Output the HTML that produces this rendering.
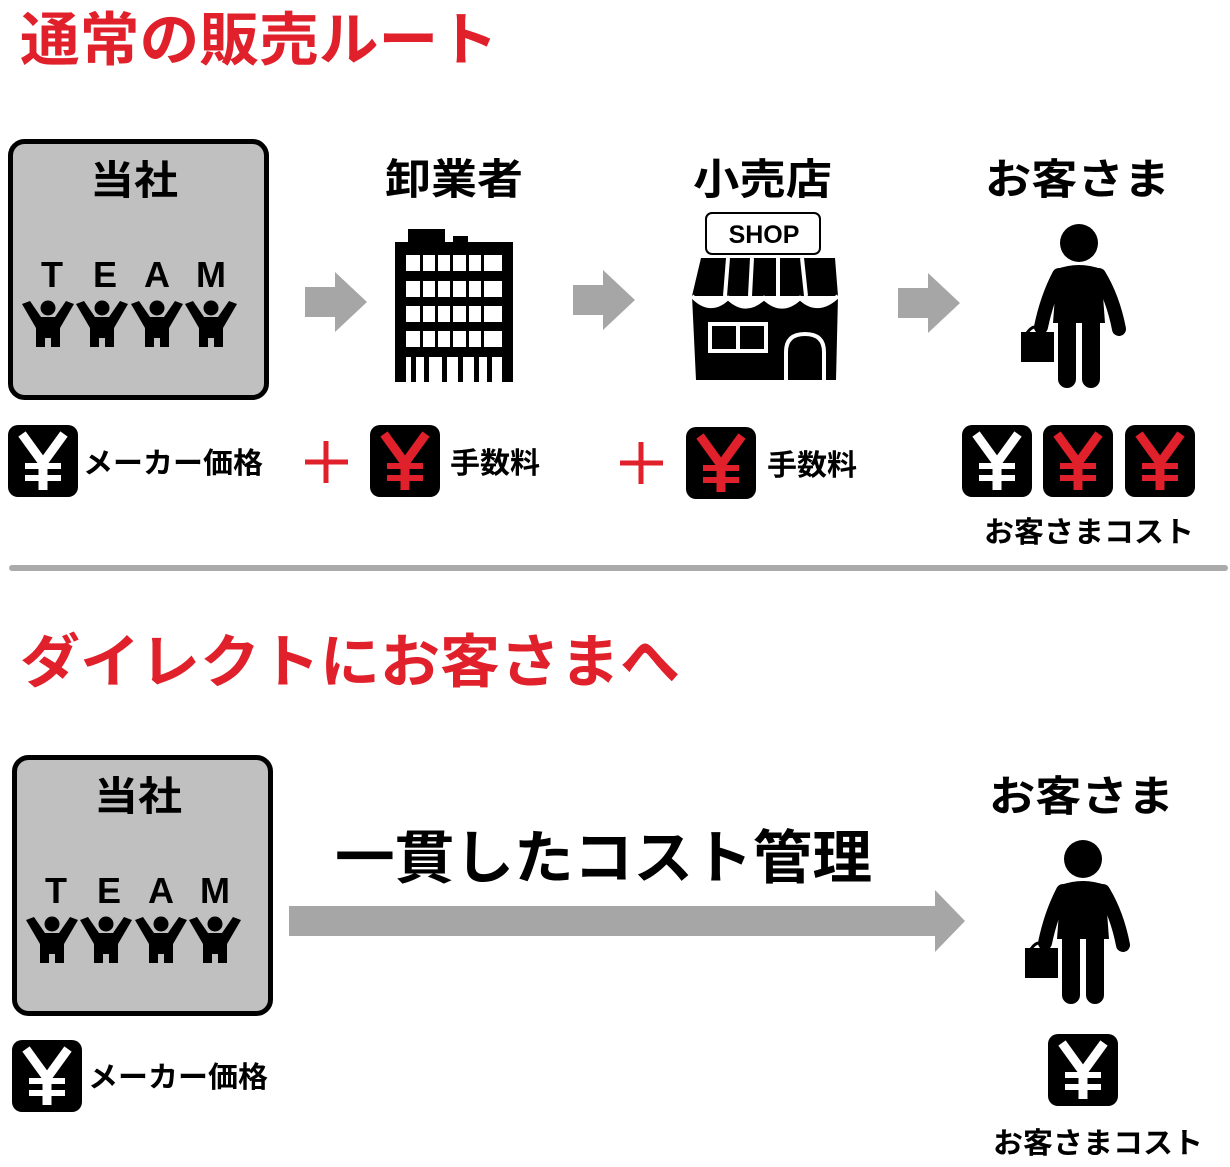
<!DOCTYPE html>
<html><head><meta charset="utf-8"><style>
html,body{margin:0;padding:0;background:#fff;}
svg{display:block}
text{font-family:"Liberation Sans","Noto Sans CJK JP",sans-serif;font-weight:bold}
</style></head><body>
<svg width="1230" height="1167" viewBox="0 0 1230 1167" xmlns="http://www.w3.org/2000/svg">
<defs>
  <g id="tp">
    <circle cx="0" cy="6" r="7.5" fill="#000"/>
    <polygon points="-26,2 -18,-1 -7,15 7,15 18,-1 26,2 12,26 12,45 3,45 3,36 -3,36 -3,45 -12,45 -12,26" fill="#000"/>
  </g>
  <g id="box">
    <rect x="10.5" y="141.5" width="256" height="256" rx="14" fill="#c0c0c0" stroke="#000" stroke-width="5"/>
    <text x="90" y="194" font-size="40" textLength="88" lengthAdjust="spacingAndGlyphs">当社</text>
    <text x="52" y="287" font-size="36" text-anchor="middle">T</text>
    <text x="105" y="287" font-size="36" text-anchor="middle">E</text>
    <text x="157" y="287" font-size="36" text-anchor="middle">A</text>
    <text x="211" y="287" font-size="36" text-anchor="middle">M</text>
    <use href="#tp" x="48" y="302"/>
    <use href="#tp" x="102" y="302"/>
    <use href="#tp" x="157" y="302"/>
    <use href="#tp" x="211" y="302"/>
  </g>
  <g id="yw"><rect x="0" y="0" width="70" height="72" rx="10" fill="#000"/>
    <g stroke="#fff" fill="none"><polyline points="14,9 35,38 56,9" stroke-width="9"/><line x1="35" y1="36" x2="35" y2="65" stroke-width="9"/><line x1="17" y1="41" x2="53" y2="41" stroke-width="6"/><line x1="17" y1="53" x2="53" y2="53" stroke-width="6"/></g></g>
  <g id="yr"><rect x="0" y="0" width="70" height="72" rx="10" fill="#000"/>
    <g stroke="#e0202a" fill="none"><polyline points="14,9 35,38 56,9" stroke-width="9"/><line x1="35" y1="36" x2="35" y2="65" stroke-width="9"/><line x1="17" y1="41" x2="53" y2="41" stroke-width="6"/><line x1="17" y1="53" x2="53" y2="53" stroke-width="6"/></g></g>
  <g id="person">
    <circle cx="0" cy="0" r="19" fill="#000"/>
    <path d="M-22,26 Q0,18 22,26 L26,80 L-26,80 Z" fill="#000"/>
    <path d="M-20,32 Q-32,55 -38,84" stroke="#000" stroke-width="14" stroke-linecap="round" fill="none"/>
    <path d="M20,32 Q34,55 40,86" stroke="#000" stroke-width="14" stroke-linecap="round" fill="none"/>
    <rect x="-21" y="60" width="18" height="85" rx="9" fill="#000"/>
    <rect x="3" y="60" width="18" height="85" rx="9" fill="#000"/>
    <path d="M-52,90 Q-44,78 -36,90" stroke="#000" stroke-width="3" fill="none"/>
    <rect x="-58" y="89" width="33" height="30" fill="#000"/>
  </g>
</defs>

<!-- Top section -->
<text x="20" y="60" font-size="58" fill="#e0202a" textLength="478" lengthAdjust="spacingAndGlyphs">通常の販売ルート</text>
<use href="#box"/>

<polygon points="305,287 335,287 335,272 367,302 335,332 335,317 305,317" fill="#a6a6a6"/>
<polygon points="573,285 603,285 603,270 635,300 603,330 603,315 573,315" fill="#a6a6a6"/>
<polygon points="898,288 928,288 928,273 960,303 928,333 928,318 898,318" fill="#a6a6a6"/>

<text x="385" y="194" font-size="42" textLength="138" lengthAdjust="spacingAndGlyphs">卸業者</text>
<text x="693" y="194" font-size="42" textLength="139" lengthAdjust="spacingAndGlyphs">小売店</text>
<text x="985" y="194" font-size="42" textLength="185" lengthAdjust="spacingAndGlyphs">お客さま</text>

<!-- building -->
<rect x="408" y="229" width="37" height="14" fill="#000"/>
<rect x="453" y="236" width="15" height="7" fill="#000"/>
<rect x="395" y="242" width="118" height="140" fill="#000"/>
<g fill="#fff">
  <rect x="406" y="255" width="96" height="16"/>
  <rect x="406" y="281" width="96" height="16"/>
  <rect x="406" y="306" width="96" height="16"/>
  <rect x="406" y="331" width="96" height="16"/>
  <rect x="406" y="357" width="96" height="25"/>
</g>
<g fill="#000">
  <rect x="420" y="255" width="3" height="92"/><rect x="435" y="255" width="3" height="92"/>
  <rect x="450" y="255" width="3" height="92"/><rect x="466" y="255" width="3" height="92"/>
  <rect x="481" y="255" width="3" height="92"/>
  <rect x="411" y="357" width="5" height="25"/><rect x="424" y="357" width="5" height="25"/>
  <rect x="442" y="357" width="5" height="25"/><rect x="458" y="357" width="5" height="25"/>
  <rect x="474" y="357" width="5" height="25"/><rect x="487" y="357" width="5" height="25"/>
</g>

<!-- shop -->
<rect x="706" y="213" width="114" height="41" rx="6" fill="#fff" stroke="#000" stroke-width="2"/>
<text x="764" y="243" font-size="25" text-anchor="middle">SHOP</text>
<polygon points="701,258 835,258 838,296 692,296" fill="#000"/>
<g stroke="#fff" stroke-width="4"><line x1="728" y1="258" x2="725" y2="296"/><line x1="752" y1="258" x2="750" y2="296"/><line x1="778" y1="258" x2="778" y2="296"/><line x1="802" y1="258" x2="806" y2="296"/></g>
<path d="M692,296 Q710,315 728,298 Q746,315 764,298 Q782,315 800,298 Q818,315 838,296 L836,380 L696,380 Z" fill="#000"/>
<path d="M692,296 Q710,315 728,298 Q746,315 764,298 Q782,315 800,298 Q818,315 838,296" stroke="#fff" stroke-width="4" fill="none"/>
<rect x="710" y="324" width="56" height="27" fill="none" stroke="#fff" stroke-width="4"/>
<line x1="738" y1="324" x2="738" y2="351" stroke="#fff" stroke-width="4"/>
<path d="M786,380 L786,352 Q786,334 805,334 Q824,334 824,352 L824,380" fill="none" stroke="#fff" stroke-width="4"/>

<use href="#person" x="1079" y="243"/>

<use href="#yw" x="8" y="425"/>
<text x="83" y="473" font-size="29" textLength="180" lengthAdjust="spacingAndGlyphs">メーカー価格</text>
<g stroke="#e0202a" stroke-width="5"><line x1="305" y1="462" x2="348" y2="462"/><line x1="326" y1="441" x2="326" y2="483"/>
<line x1="620" y1="463" x2="663" y2="463"/><line x1="641" y1="442" x2="641" y2="484"/></g>
<use href="#yr" x="370" y="425"/>
<text x="450" y="473" font-size="29" textLength="90" lengthAdjust="spacingAndGlyphs">手数料</text>
<use href="#yr" x="686" y="427"/>
<text x="767" y="475" font-size="29" textLength="90" lengthAdjust="spacingAndGlyphs">手数料</text>
<use href="#yw" x="962" y="425"/>
<use href="#yr" x="1043" y="425"/>
<use href="#yr" x="1125" y="425"/>
<text x="984" y="542" font-size="29" textLength="210" lengthAdjust="spacingAndGlyphs">お客さまコスト</text>

<line x1="12" y1="568" x2="1225" y2="568" stroke="#aaa" stroke-width="6" stroke-linecap="round"/>

<!-- Bottom section -->
<text x="20" y="682" font-size="58" fill="#e0202a" textLength="660" lengthAdjust="spacingAndGlyphs">ダイレクトにお客さまへ</text>
<use href="#box" x="4" y="616"/>
<text x="335" y="878" font-size="58" textLength="537" lengthAdjust="spacingAndGlyphs">一貫したコスト管理</text>
<polygon points="289,906 935,906 935,890 965,921 935,952 935,936 289,936" fill="#a6a6a6"/>
<text x="989" y="811" font-size="42" textLength="185" lengthAdjust="spacingAndGlyphs">お客さま</text>
<use href="#person" x="1083" y="859"/>
<use href="#yw" x="12" y="1040"/>
<text x="88" y="1087" font-size="29" textLength="180" lengthAdjust="spacingAndGlyphs">メーカー価格</text>
<use href="#yw" x="1048" y="1034"/>
<text x="993" y="1153" font-size="29" textLength="210" lengthAdjust="spacingAndGlyphs">お客さまコスト</text>
</svg>
</body></html>
